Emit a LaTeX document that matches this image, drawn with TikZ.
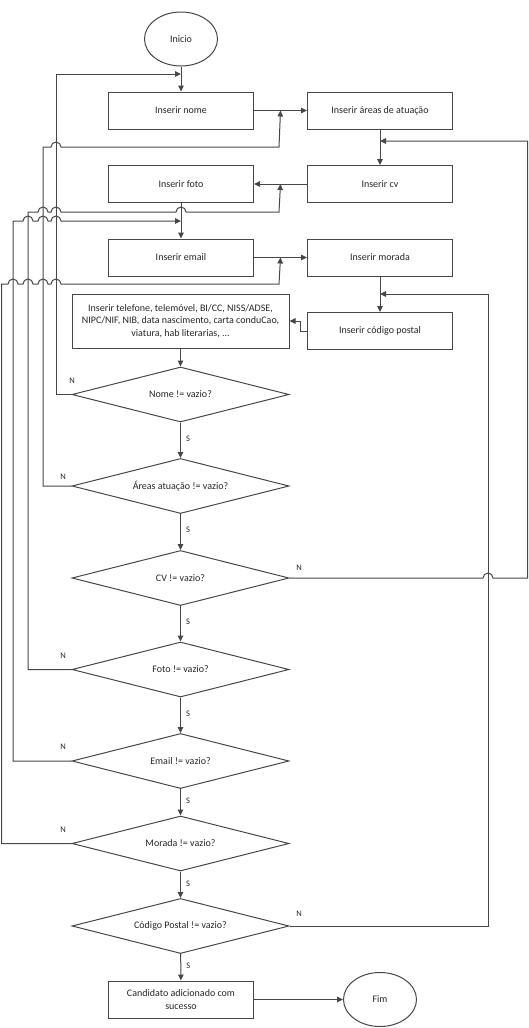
\documentclass[tikz,border=0pt]{standalone}
\usepackage{fontspec}
\setmainfont{Carlito}
\usetikzlibrary{arrows.meta,shapes.geometric,calc}
\begin{document}
\begin{tikzpicture}[x=1pt,y=-1pt,
  line/.style={draw=black!72, line width=1pt},
  arr/.style={line, -{Triangle[length=6pt,width=5.5pt]}},
  txt/.style={font=\fontsize{10}{12.8}\selectfont, text=black!85},
  proc/.style={line, txt, rectangle, minimum width=145pt, minimum height=37pt, inner sep=2pt, align=center},
  bigproc/.style={line, txt, rectangle, minimum width=217pt, minimum height=54pt, inner sep=2pt, align=center},
  dec/.style={line, txt, diamond, aspect=3.95, minimum width=217pt, minimum height=55pt, inner sep=0pt},
  term/.style={line, txt, ellipse, minimum width=73pt, minimum height=54pt, inner sep=0pt},
  lbl/.style={font=\fontsize{8.5}{10}\selectfont, text=black!85, inner sep=0pt}
]
\useasboundingbox (0,0) rectangle (529,1028);

% nodes
\node[term] (inicio) at (181,39) {Inicio};
\node[proc] (nome) at (181,110.5) {Inserir nome};
\node[proc] (areas) at (380,110.5) {Inserir áreas de atuação};
\node[proc] (foto) at (181,184) {Inserir foto};
\node[proc] (cv) at (380,184) {Inserir cv};
\node[proc] (email) at (181,257.5) {Inserir email};
\node[proc] (morada) at (380,257.5) {Inserir morada};
\node[proc] (cp) at (380,331) {Inserir código postal};
\node[bigproc] (outros) at (180.5,321) {Inserir telefone, telemóvel, BI/CC, NISS/ADSE,\\NIPC/NIF, NIB, data nascimento, carta conduCao,\\viatura, hab literarias, ...};
\node[dec] (d1) at (180.5,394.5) {Nome != vazio?};
\node[dec] (d2) at (180.5,486) {Áreas atuação != vazio?};
\node[dec] (d3) at (180.5,578) {CV != vazio?};
\node[dec] (d4) at (180.5,669.5) {Foto != vazio?};
\node[dec] (d5) at (180.5,761) {Email != vazio?};
\node[dec] (d6) at (180.5,843.5) {Morada != vazio?};
\node[dec] (d7) at (180.5,926) {Código Postal != vazio?};
\node[proc] (cand) at (181,999.5) {Candidato adicionado com\\sucesso};
\node[term] (fim) at (380,999.5) {Fim};

% junction coordinates
\coordinate (j1) at (181,74);
\coordinate (j2) at ($(nome.east)!0.5!(areas.west)$);
\coordinate (j3) at (380,141);
\coordinate (j4) at ($(foto.east)!0.5!(cv.west)$);
\coordinate (j5) at (181,221);
\coordinate (j6) at ($(email.east)!0.5!(morada.west)$);
\coordinate (j7) at (380,294);

% main flow
\draw[arr] (inicio) -- (nome);
\draw[arr] (nome) -- (areas);
\draw[arr] (areas) -- (cv);
\draw[arr] (cv) -- (foto);
\draw[arr] (foto) -- (email);
\draw[arr] (email) -- (morada);
\draw[arr] (morada) -- (cp);
\draw[arr] (cp.west |- 0,331) -- (300,331) -- (300,321) -- (outros.east |- 0,321);
\draw[arr] (outros) -- (d1);
\draw[arr] (d1) -- node[lbl, right=5pt, pos=0.45] {S} (d2);
\draw[arr] (d2) -- node[lbl, right=5pt, pos=0.45] {S} (d3);
\draw[arr] (d3) -- node[lbl, right=5pt, pos=0.45] {S} (d4);
\draw[arr] (d4) -- node[lbl, right=5pt, pos=0.45] {S} (d5);
\draw[arr] (d5) -- node[lbl, right=5pt, pos=0.45] {S} (d6);
\draw[arr] (d6) -- node[lbl, right=5pt, pos=0.45] {S} (d7);
\draw[arr] (d7) -- node[lbl, right=5pt, pos=0.45] {S} (cand);
\draw[arr] (cand) -- (fim);

% N loops
\draw[arr] (d1.west) -- (56,394.5) -- (56,74) -- (j1);
\draw[arr] (d2.west) -- (43,486) -- (43,147)
  -- (51,147) arc[start angle=180,end angle=0,radius=5pt]
  -- (279,147) -- (j2);
\draw[arr] (d3.east) -- (483,578) arc[start angle=180,end angle=0,radius=5pt]
  -- (527.5,578) -- (527.5,141) -- (j3);
\draw[arr] (d4.west) -- (28,669.5) -- (28,212)
  -- (38,212) arc[start angle=180,end angle=0,radius=5pt]
  -- (51,212) arc[start angle=180,end angle=0,radius=5pt]
  -- (176,212) arc[start angle=180,end angle=0,radius=5pt]
  -- (279,212) -- (j4);
\draw[arr] (d5.west) -- (13,761) -- (13,221)
  -- (23,221) arc[start angle=180,end angle=0,radius=5pt]
  -- (38,221) arc[start angle=180,end angle=0,radius=5pt]
  -- (51,221) arc[start angle=180,end angle=0,radius=5pt]
  -- (j5);
\draw[arr] (d6.west) -- (1.5,843.5) -- (1.5,284)
  -- (8,284) arc[start angle=180,end angle=0,radius=5pt]
  -- (23,284) arc[start angle=180,end angle=0,radius=5pt]
  -- (38,284) arc[start angle=180,end angle=0,radius=5pt]
  -- (51,284) arc[start angle=180,end angle=0,radius=5pt]
  -- (279,284) -- (j6);
\draw[arr] (d7.east) -- (488,926) -- (488,294) -- (j7);

% N labels
\node[lbl] (n1) at (72,381) {N};
\node[lbl] (n2) at (63,477) {N};
\node[lbl] (n3) at (299,568) {N};
\node[lbl] (n4) at (63,656) {N};
\node[lbl] (n5) at (63,747) {N};
\node[lbl] (n6) at (63,830) {N};
\node[lbl] (n7) at (299,914) {N};
\end{tikzpicture}
\end{document}
